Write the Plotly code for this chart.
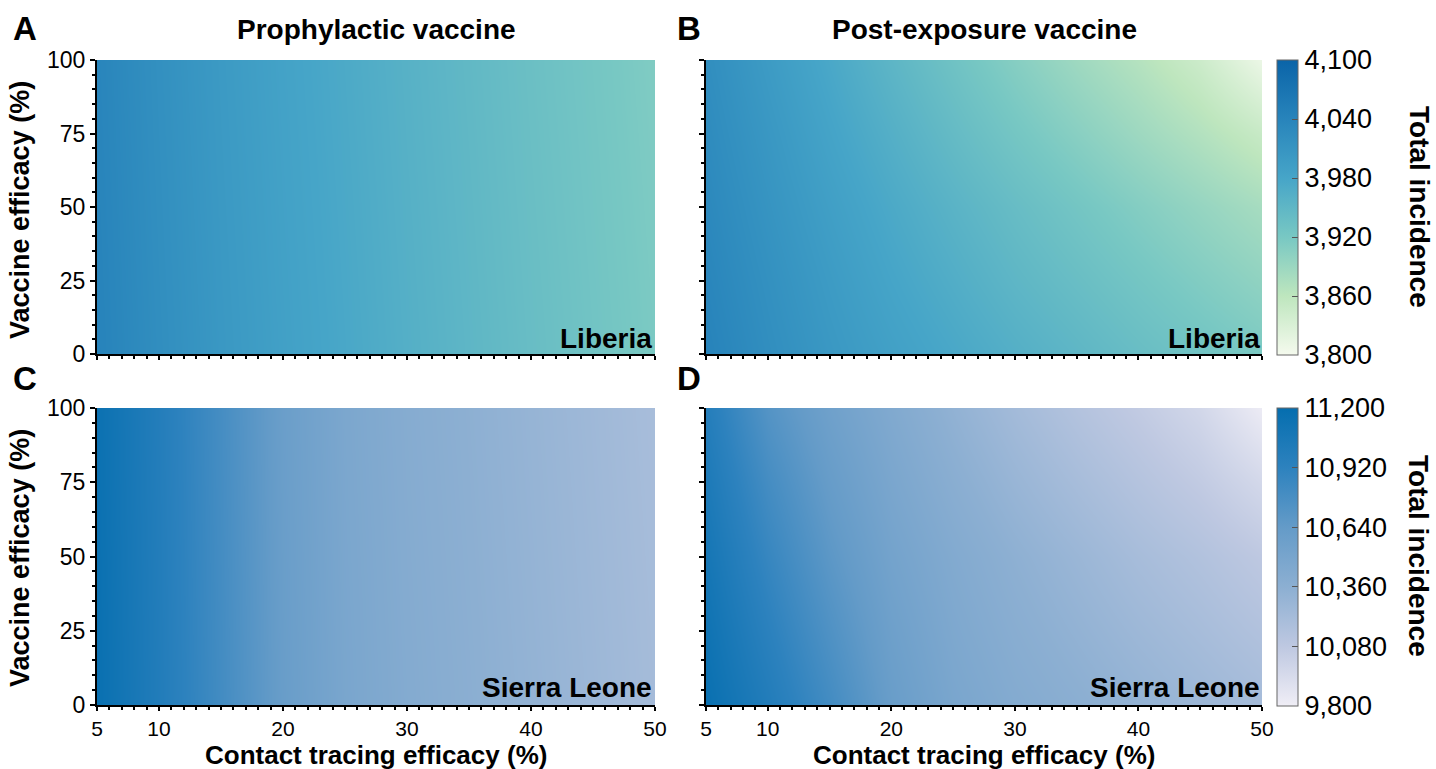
import plotly.graph_objects as go

W, H = 1436, 769

# ---------------- data ----------------
contact_tracing = [5, 10, 15, 20, 25, 30, 35, 40, 45, 50]
vaccine_efficacy = [0, 25, 50, 75, 100]

liberia_prophylactic = [
    [4042, 4022, 4004, 3989, 3976, 3963, 3951, 3939, 3928, 3917],
    [4041, 4021, 4003, 3988, 3975, 3962, 3950, 3938, 3927, 3916],
    [4040, 4020, 4002, 3987, 3974, 3961, 3949, 3937, 3926, 3915],
    [4039, 4019, 4001, 3986, 3973, 3960, 3948, 3936, 3925, 3914],
    [4038, 4018, 4000, 3985, 3972, 3959, 3947, 3935, 3924, 3913],
]
liberia_postexposure = [
    [4042, 4022, 4004, 3989, 3976, 3963, 3951, 3939, 3928, 3917],
    [4037, 4017, 3998, 3981, 3966, 3951, 3938, 3925, 3912, 3899],
    [4032, 4011, 3991, 3973, 3956, 3940, 3925, 3910, 3895, 3880],
    [4027, 4005, 3983, 3963, 3943, 3924, 3906, 3888, 3870, 3850],
    [4022, 3998, 3975, 3952, 3930, 3908, 3887, 3868, 3845, 3810],
]
sierra_prophylactic = [
    [11170, 11000, 10810, 10610, 10490, 10420, 10370, 10320, 10270, 10220],
    [11166, 10996, 10806, 10606, 10486, 10416, 10366, 10316, 10266, 10216],
    [11162, 10992, 10802, 10602, 10482, 10412, 10362, 10312, 10262, 10212],
    [11158, 10988, 10798, 10598, 10478, 10408, 10358, 10308, 10258, 10208],
    [11154, 10984, 10794, 10594, 10474, 10404, 10354, 10304, 10254, 10204],
]
sierra_postexposure = [
    [11170, 11000, 10810, 10610, 10490, 10420, 10370, 10320, 10270, 10220],
    [11130, 10935, 10745, 10572, 10460, 10385, 10325, 10265, 10210, 10150],
    [11085, 10870, 10680, 10530, 10430, 10350, 10280, 10210, 10150, 10080],
    [11035, 10800, 10620, 10485, 10380, 10290, 10210, 10135, 10060, 9960],
    [10980, 10720, 10560, 10440, 10330, 10230, 10140, 10060, 9970, 9820],
]

liberia_ticks = [3800, 3860, 3920, 3980, 4040, 4100]
sierra_ticks = [9800, 10080, 10360, 10640, 10920, 11200]
x_ticks = [5, 10, 20, 30, 40, 50]
y_ticks = [0, 25, 50, 75, 100]

# ---------------- styling ----------------
FONT = "Liberation Sans, Arial, sans-serif"
liberia_scale = [[0.0, "rgb(245,250,238)"], [0.2, "rgb(190,230,190)"], [0.4, "rgb(120,200,195)"],
                 [0.6, "rgb(70,165,200)"], [0.8, "rgb(40,132,187)"], [1.0, "rgb(10,100,168)"]]
sierra_scale = [[0.0, "rgb(240,238,246)"], [0.2, "rgb(190,200,225)"], [0.4, "rgb(140,175,210)"],
                [0.6, "rgb(100,155,200)"], [0.8, "rgb(45,130,190)"], [1.0, "rgb(5,110,175)"]]


def px(x):
    return x / W


def py(y):
    return 1 - y / H


fig = go.Figure()

panels = [
    (liberia_prophylactic, "x", "y", "coloraxis"),
    (liberia_postexposure, "x2", "y2", "coloraxis"),
    (sierra_prophylactic, "x3", "y3", "coloraxis2"),
    (sierra_postexposure, "x4", "y4", "coloraxis2"),
]
for z, xa, ya, ca in panels:
    fig.add_trace(go.Heatmap(x=contact_tracing, y=vaccine_efficacy, z=z, xaxis=xa, yaxis=ya,
                             coloraxis=ca, zsmooth="best", hoverinfo="skip"))

xdom_left = [px(97), px(655)]
xdom_right = [px(706), px(1262)]
ydom_top = [py(354), py(60)]
ydom_bot = [py(705), py(408)]


def xaxis(domain, anchor, labels):
    return dict(domain=domain, anchor=anchor, range=[5, 50], tickvals=x_ticks,
                showticklabels=labels, ticks="outside", ticklen=4, tickwidth=2, tickcolor="black",
                showline=True, linecolor="black", linewidth=2, showgrid=False, zeroline=False,
                automargin=False,
                tickfont=dict(size=21, color="black", family=FONT),
                minor=dict(dtick=1, tick0=0, ticks="outside", ticklen=3, tickwidth=1.5,
                           tickcolor="black", showgrid=False))


def yaxis(domain, anchor, labels):
    return dict(domain=domain, anchor=anchor, range=[0, 100], tickvals=y_ticks,
                showticklabels=labels, ticks="outside", ticklen=5, tickwidth=2, tickcolor="black",
                showline=True, linecolor="black", linewidth=2, showgrid=False, zeroline=False,
                automargin=False,
                tickfont=dict(size=23, color="black", family=FONT),
                minor=dict(dtick=5, tick0=0, ticks="outside", ticklen=3, tickwidth=1.5,
                           tickcolor="black", showgrid=False))


def cbar(ytop, length, ticks):
    return dict(x=px(1277), xanchor="left", y=ytop, yanchor="top", len=length, lenmode="fraction",
                thickness=21, thicknessmode="pixels", outlinewidth=1, outlinecolor="#666",
                ticks="inside", ticklen=6, tickcolor="#555", tickwidth=1,
                tickvals=ticks, tickformat=",", xpad=0, ypad=0,
                tickfont=dict(size=27, color="black", family=FONT))


fig.update_layout(
    width=W, height=H, margin=dict(l=0, r=0, t=0, b=0, pad=0, autoexpand=False),
    paper_bgcolor="white", plot_bgcolor="white", showlegend=False,
    font=dict(family=FONT, color="black"),
    xaxis=xaxis(xdom_left, "y", False), yaxis=yaxis(ydom_top, "x", True),
    xaxis2=xaxis(xdom_right, "y2", False), yaxis2=yaxis(ydom_top, "x2", False),
    xaxis3=xaxis(xdom_left, "y3", True), yaxis3=yaxis(ydom_bot, "x3", True),
    xaxis4=xaxis(xdom_right, "y4", True), yaxis4=yaxis(ydom_bot, "x4", False),
    coloraxis=dict(colorscale=liberia_scale, cmin=3800, cmax=4100,
                   colorbar=cbar(py(60), 295 / H, liberia_ticks)),
    coloraxis2=dict(colorscale=sierra_scale, cmin=9800, cmax=11200,
                    colorbar=cbar(py(408), 298 / H, sierra_ticks)),
)


def ann(text, x, y, size, angle=0, xanchor="center"):
    fig.add_annotation(text=text, x=px(x), y=py(y), xref="paper", yref="paper",
                       showarrow=False, textangle=angle, xanchor=xanchor, yanchor="middle",
                       font=dict(size=size, family=FONT, color="black"))


ann("<b>A</b>", 25, 28, 33)
ann("<b>B</b>", 689, 28, 33)
ann("<b>C</b>", 25, 379, 33)
ann("<b>D</b>", 689, 379, 33)
ann("<b>Prophylactic vaccine</b>", 376, 29, 28)
ann("<b>Post-exposure vaccine</b>", 984, 29, 28)
ann("<b>Vaccine efficacy (%)</b>", 20, 210, 27, angle=-90)
ann("<b>Vaccine efficacy (%)</b>", 20, 558, 27, angle=-90)
ann("<b>Contact tracing efficacy (%)</b>", 376, 755, 26)
ann("<b>Contact tracing efficacy (%)</b>", 984, 755, 26)
ann("<b>Total incidence</b>", 1419, 207, 28, angle=90)
ann("<b>Total incidence</b>", 1419, 556, 28, angle=90)
ann("<b>Liberia</b>", 654, 338, 28, xanchor="right")
ann("<b>Liberia</b>", 1262, 338, 28, xanchor="right")
ann("<b>Sierra Leone</b>", 654, 687, 28, xanchor="right")
ann("<b>Sierra Leone</b>", 1262, 687, 28, xanchor="right")

fig.write_html("out.html", config={"displayModeBar": False},
               post_script="document.body.style.margin='0';")
